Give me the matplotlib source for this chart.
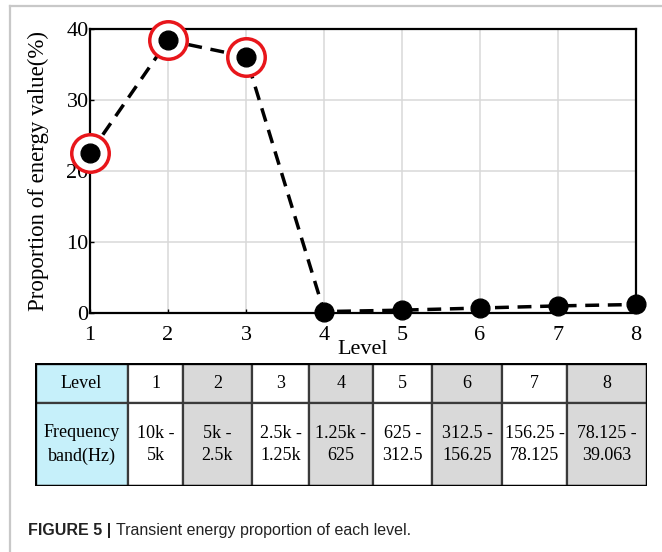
import matplotlib
matplotlib.use('Agg')
import matplotlib.pyplot as plt
from matplotlib.patches import Rectangle
from matplotlib.lines import Line2D

# data
levels = [1, 2, 3, 4, 5, 6, 7, 8]
energy = [22.5, 38.4, 36.1, 0.2, 0.4, 0.7, 1.0, 1.2]
marked = [0, 1, 2]  # levels circled in red

row_titles = ['Level', 'Frequency\nband(Hz)']
band_labels = ['10k -\n5k', '5k -\n2.5k', '2.5k -\n1.25k', '1.25k -\n625',
               '625 -\n312.5', '312.5 -\n156.25', '156.25 -\n78.125', '78.125 -\n39.063']

caption_bold = 'FIGURE 5 | '
caption_text = 'Transient energy proportion of each level.'

serif = 'Liberation Serif'
W, H = 662, 552

fig = plt.figure(figsize=(W / 100, H / 100), dpi=100)

# thin gray panel frame (top + left)
fig.add_artist(Line2D([10 / W, 10 / W], [0, 1 - 6 / H], color='#c8c8c8', lw=1.6))
fig.add_artist(Line2D([10 / W, 1], [1 - 6 / H, 1 - 6 / H], color='#c8c8c8', lw=1.6))

"""
line chart
"""
ax = fig.add_axes([90 / W, 1 - 313 / H, 546 / W, 284 / H])
ax.plot(levels, energy, color='black', lw=2.5, dashes=(4, 2.5), zorder=3)
ax.plot([levels[i] for i in marked], [energy[i] for i in marked], 'o', ms=27,
        mfc='white', mec='#e8161b', mew=2.5, zorder=4, clip_on=False)
ax.plot(levels, energy, 'o', ms=13.5, color='black', zorder=5, clip_on=False)

ax.set_xlim(1, 8)
ax.set_ylim(0, 40)
ax.set_xticks(levels)
ax.set_yticks([0, 10, 20, 30, 40])
ax.grid(True, color='#d9d9d9', lw=1.1)
ax.set_axisbelow(True)
for s in ax.spines.values():
    s.set_linewidth(1.6)
ax.tick_params(direction='in', length=3, width=1, labelsize=16)
for lab in ax.get_xticklabels() + ax.get_yticklabels():
    lab.set_fontfamily(serif)
ax.tick_params(axis='x', pad=9)
ax.tick_params(axis='y', pad=1)
ax.set_xlabel('Level', fontsize=16, fontfamily=serif)
ax.set_ylabel('Proportion of energy value(%)', fontsize=16.5, fontfamily=serif)
ax.xaxis.set_label_coords(0.5, -(350 - 313) / 284, transform=ax.transAxes)
ax.yaxis.set_label_coords(-(90 - 38) / 546, 0.5, transform=ax.transAxes)
ax.xaxis.label.set_va('center')
ax.yaxis.label.set_va('center')

"""
table under the chart
"""
tx0, tx1, ty0, ty1 = 35, 647, 363, 486
tax = fig.add_axes([tx0 / W, 1 - ty1 / H, (tx1 - tx0) / W, (ty1 - ty0) / H])
tax.set_xlim(tx0, tx1)
tax.set_ylim(ty1, ty0)
tax.axis('off')

col_edges = [35, 128, 183, 252, 309, 373, 432, 502, 567, 647]
row_edges = [363, 403, 486]
header_row = [row_titles[0]] + [str(l) for l in levels]
band_row = [row_titles[1]] + band_labels

for r, row in enumerate([header_row, band_row]):
    for c, txt in enumerate(row):
        x0, x1 = col_edges[c], col_edges[c + 1]
        y0, y1 = row_edges[r], row_edges[r + 1]
        if c == 0:
            fc = '#c6f0fa'
        elif c % 2 == 1:
            fc = 'white'
        else:
            fc = '#d9d9d9'
        tax.add_patch(Rectangle((x0, y0), x1 - x0, y1 - y0, fc=fc, ec='#3a3a3a', lw=1.6))
        tax.text((x0 + x1) / 2, (y0 + y1) / 2, txt, ha='center', va='center',
                 fontsize=13, fontfamily=serif, linespacing=1.45)
tax.add_patch(Rectangle((tx0, ty0), tx1 - tx0, ty1 - ty0, fc='none', ec='black', lw=2.4))

# caption
t = fig.text(28 / W, 1 - 531 / H, caption_bold, fontsize=11.5, fontweight='bold',
             fontfamily='Liberation Sans', va='center', color='#222222')
fig.canvas.draw()
bb = t.get_window_extent()
fig.text(bb.x1 / W, 1 - 531 / H, caption_text, fontsize=11.5,
         fontfamily='Liberation Sans', va='center', color='#222222')

fig.savefig('out.png', dpi=100)
